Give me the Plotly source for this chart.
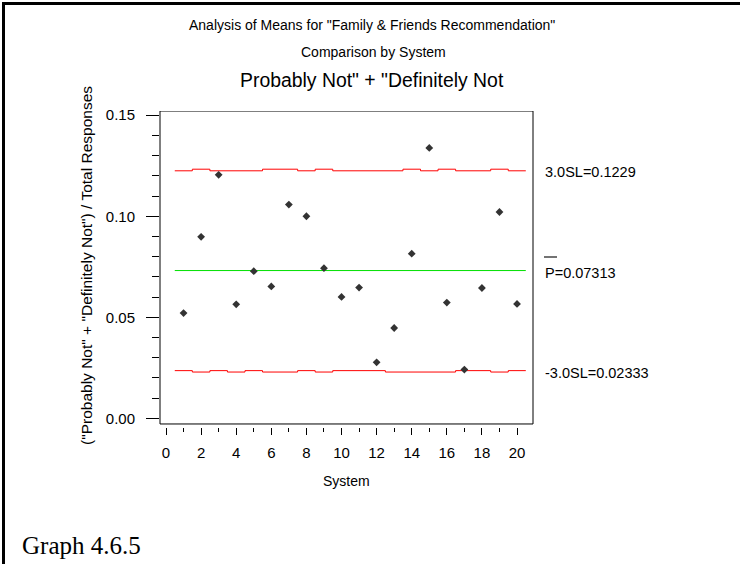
import plotly.graph_objects as go

# ---- data ----
systems = list(range(1, 21))
proportion = [0.0521, 0.0898, 0.1205, 0.0564, 0.0728, 0.0653, 0.1058, 0.1000, 0.0743, 0.0601,
              0.0647, 0.0277, 0.0447, 0.0815, 0.1338, 0.0573, 0.0241, 0.0645, 0.1021, 0.0566]
ucl = [0.1225, 0.1233, 0.1225, 0.1225, 0.1225, 0.1233, 0.1233, 0.1225, 0.1233, 0.1225,
       0.1225, 0.1225, 0.1225, 0.1233, 0.1225, 0.1233, 0.1225, 0.1225, 0.1233, 0.1225]
lcl = [0.0236, 0.0229, 0.0236, 0.0229, 0.0236, 0.0229, 0.0229, 0.0236, 0.0229, 0.0236,
       0.0236, 0.0236, 0.0229, 0.0229, 0.0229, 0.0229, 0.0236, 0.0236, 0.0229, 0.0236]
center = 0.07313
ucl_label = "3.0SL=0.1229"
center_label = "P=0.07313"
lcl_label = "-3.0SL=0.02333"
y_tickvals = [0.0, 0.05, 0.10, 0.15]
x_tickvals = list(range(0, 21, 2))

# ---- geometry (pixels) ----
W, H = 740, 564
L, R, T, B = 160, 533, 111, 427
pw, ph = R - L, B - T


def px(x):
    return (x - L) / pw


def py(y):
    return (B - y) / ph


def steps(vals):
    xs, ys = [], []
    for s, v in zip(systems, vals):
        xs += [s - 0.5, s + 0.5]
        ys += [v, v]
    return xs, ys


FONT = "Liberation Sans, Arial, sans-serif"
fig = go.Figure()

ux, uy = steps(ucl)
lx, ly = steps(lcl)
fig.add_trace(go.Scatter(x=ux, y=uy, mode="lines", line=dict(color="#ff0000", width=1), hoverinfo="skip"))
fig.add_trace(go.Scatter(x=lx, y=ly, mode="lines", line=dict(color="#ff0000", width=1), hoverinfo="skip"))
fig.add_trace(go.Scatter(x=[systems[0] - 0.5, systems[-1] + 0.5], y=[center, center], mode="lines",
                         line=dict(color="#00e000", width=1), hoverinfo="skip"))
fig.add_trace(go.Scatter(x=systems, y=proportion, mode="markers",
                         marker=dict(symbol="diamond", size=6, color="#333333")))

ybot = -0.0028
fig.add_shape(type="rect", xref="paper", yref="y", x0=0, x1=1, y0=ybot, y1=0.1521,
              line=dict(color="black", width=1), fillcolor="rgba(0,0,0,0)")
# outer frame (top and left edges)
fig.add_shape(type="line", xref="paper", yref="paper", x0=px(2), x1=px(741), y0=py(3.5), y1=py(3.5),
              line=dict(color="black", width=3))
fig.add_shape(type="line", xref="paper", yref="paper", x0=px(3.5), x1=px(3.5), y0=py(2), y1=py(566),
              line=dict(color="black", width=3))
# overbar for P
fig.add_shape(type="line", xref="paper", yref="paper", x0=px(544), x1=px(557), y0=py(257), y1=py(257),
              line=dict(color="#444444", width=1.5))

ann = [
    dict(text='Analysis of Means for "Family & Friends Recommendation"', x=px(372), y=py(25), size=14),
    dict(text="Comparison by System", x=px(373), y=py(52), size=14),
    dict(text='Probably Not" + "Definitely Not', x=px(372), y=py(80), size=19.4),
    dict(text="System", x=px(346), y=py(481), size=14),
]
for a in ann:
    fig.add_annotation(text=a["text"], x=a["x"], y=a["y"], xref="paper", yref="paper",
                       showarrow=False, xanchor="center", yanchor="middle",
                       font=dict(family=FONT, size=a["size"], color="black"))
for txt, yy in [(ucl_label, 172), (center_label, 273), (lcl_label, 373)]:
    fig.add_annotation(text=txt, x=px(543), y=py(yy), xref="paper", yref="paper", showarrow=False,
                       xanchor="left", yanchor="middle", font=dict(family=FONT, size=14.5, color="black"))
fig.add_annotation(text='("Probably Not" + "Definitely Not") / Total Responses', x=px(86), y=py(266),
                   xref="paper", yref="paper", showarrow=False, textangle=-90,
                   xanchor="center", yanchor="middle", font=dict(family=FONT, size=15.5, color="black"))
fig.add_annotation(text="Graph 4.6.5", x=px(20), y=py(545), xref="paper", yref="paper", showarrow=False,
                   xanchor="left", yanchor="middle",
                   font=dict(family="Liberation Serif, Times New Roman, serif", size=25, color="black"))

fig.update_layout(
    width=W, height=H, showlegend=False,
    margin=dict(l=L, r=W - R, t=T, b=H - B, pad=0),
    paper_bgcolor="white", plot_bgcolor="white",
    font=dict(family=FONT, size=15, color="black"),
    xaxis=dict(range=[-0.342, 20.91], tickvals=x_tickvals, ticks="outside", ticklen=7,
               tickcolor="black", showline=False, showgrid=False, zeroline=False,
               ticklabelstandoff=5,
               minor=dict(dtick=1, tick0=0, ticks="outside", ticklen=4, tickcolor="black", showgrid=False)),
    yaxis=dict(range=[-0.0043, 0.1521], tickvals=y_tickvals, tickformat=".2f", ticks="outside", ticklen=13,
               tickcolor="black", showline=False, showgrid=False, zeroline=False,
               ticklabelstandoff=8,
               minor=dict(dtick=0.01, tick0=0, ticks="outside", ticklen=7, tickcolor="black", showgrid=False)),
)

fig.write_html("out.html", config={"displayModeBar": False},
               post_script="document.body.style.margin='0';document.body.style.overflow='hidden';")
